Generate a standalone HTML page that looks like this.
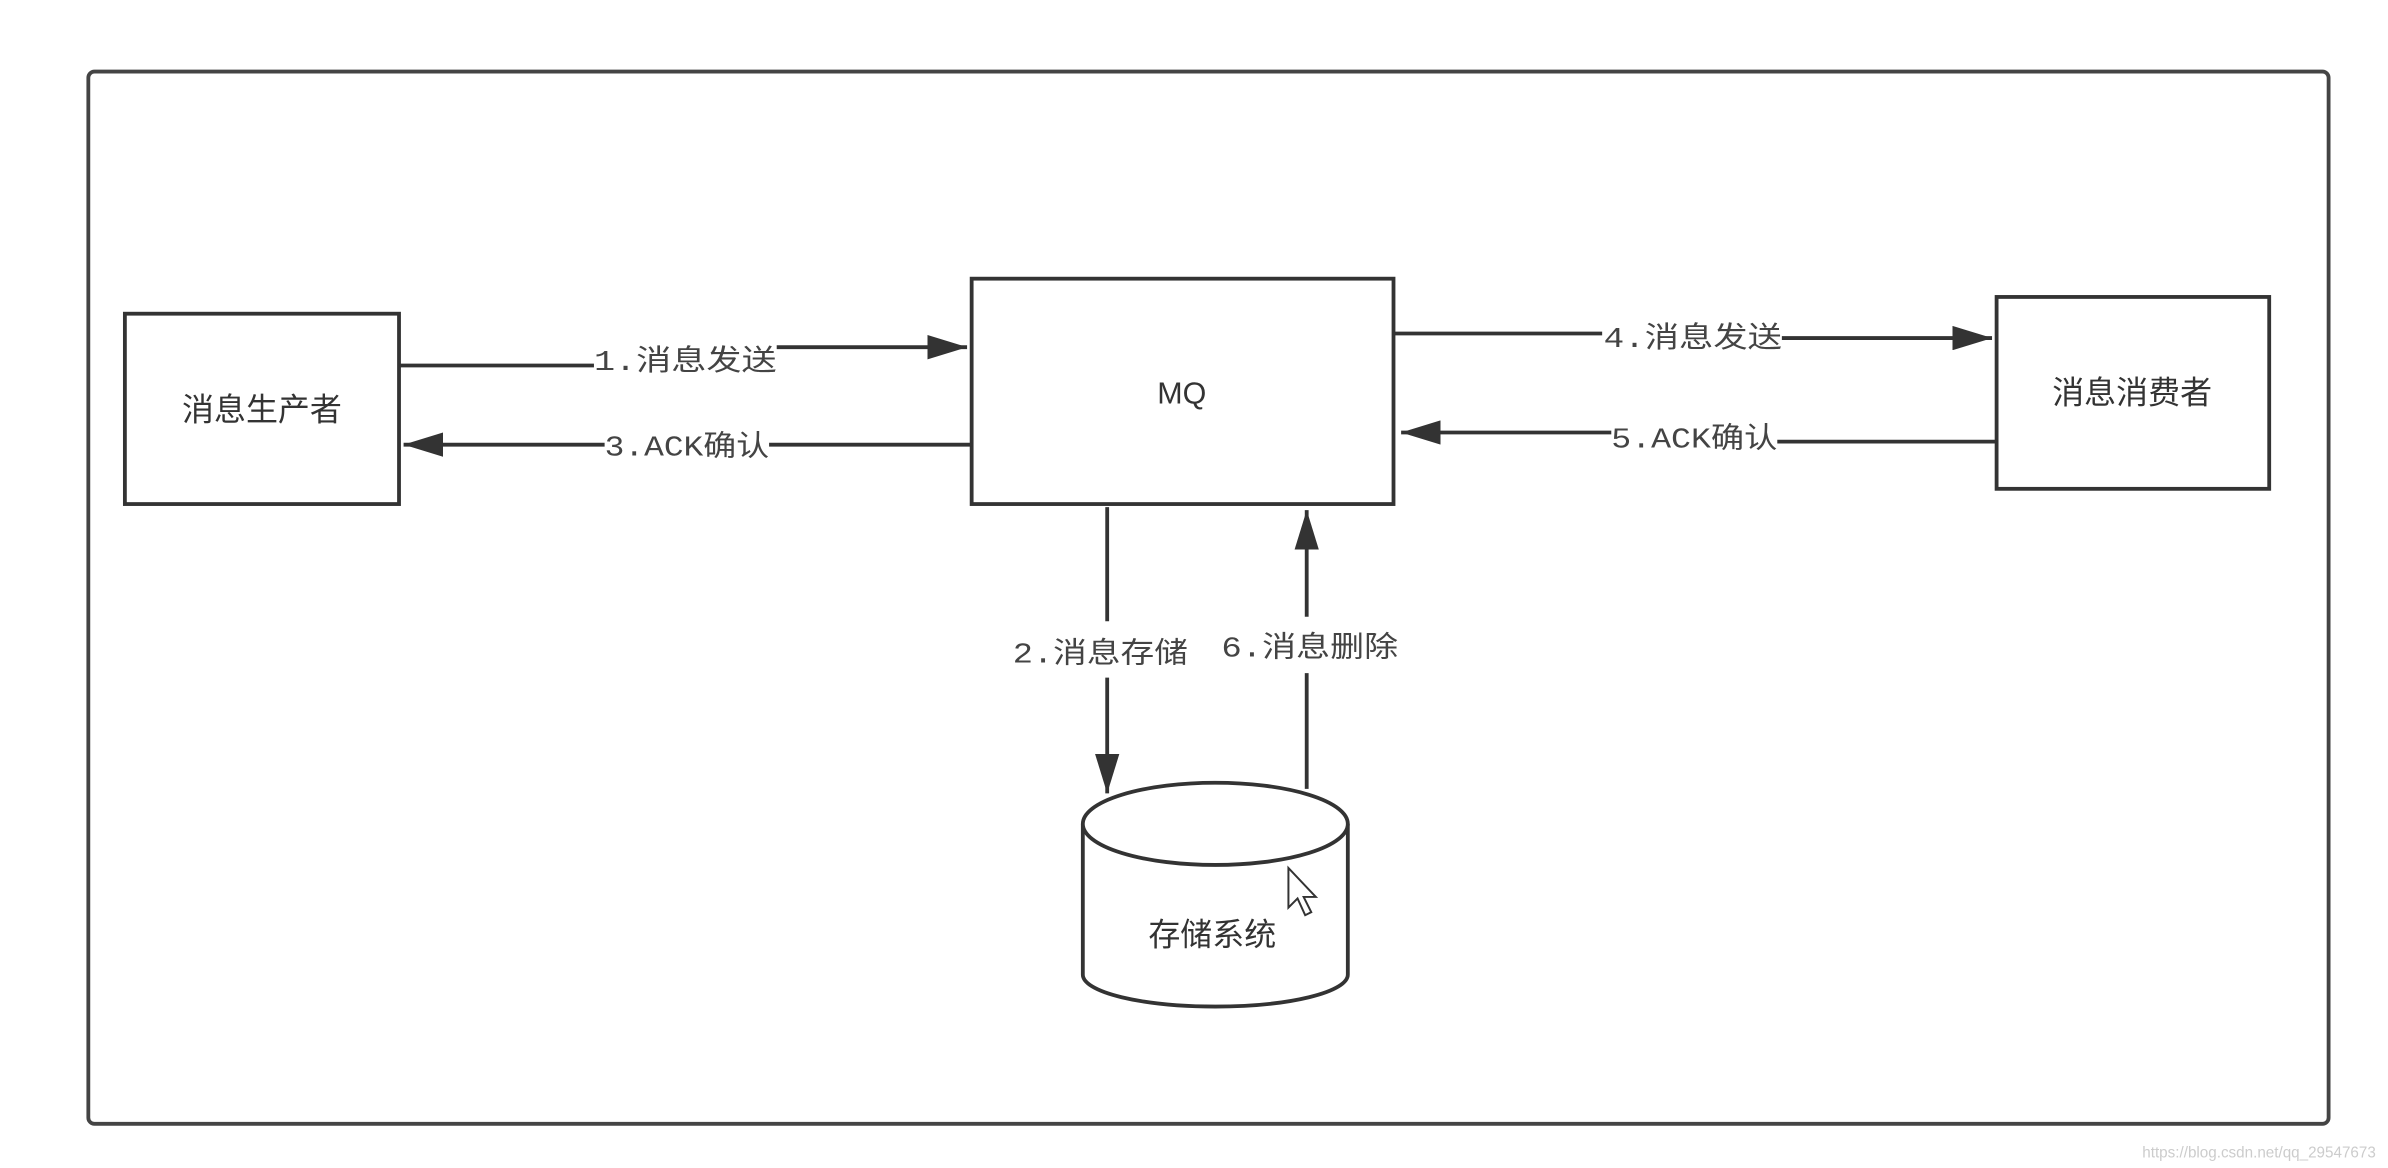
<!DOCTYPE html>
<html><head><meta charset="utf-8"><style>
html,body{margin:0;padding:0;background:#fff;}
svg{display:block;}
text{font-family:"Liberation Sans","Noto Sans CJK SC",sans-serif;}
.l{font-family:"Liberation Mono","Noto Sans CJK SC",monospace;font-size:19px;fill:#444;}
</style></head><body>
<svg width="2388" height="1168" viewBox="0 0 1568 767" preserveAspectRatio="none" xmlns="http://www.w3.org/2000/svg">
<defs>
<marker id="b" markerWidth="26" markerHeight="16" refX="26" refY="8" orient="auto" markerUnits="userSpaceOnUse"><path d="M0,0 L26,8 L0,16z" fill="#333"/></marker></defs>
<rect x="58" y="47" width="1471" height="691" rx="4" fill="#fff" stroke="#444" stroke-width="2.5"/>
<g fill="#fff" stroke="#333" stroke-width="2.5">
<rect x="82" y="206" width="180" height="125"/>
<rect x="638" y="183" width="277" height="148"/>
<rect x="1311" y="195" width="179" height="126"/>
</g>
<g stroke="#333" stroke-width="2.5" fill="none">
<path d="M262 240 H390"/><path d="M510 228 H635" marker-end="url(#b)"/>
<path d="M638 292 H505"/><path d="M397 292 H265" marker-end="url(#b)"/>
<path d="M915 219 H1052"/><path d="M1170 222 H1308" marker-end="url(#b)"/>
<path d="M1311 290 H1167"/><path d="M1058 284 H920" marker-end="url(#b)"/>
<path d="M727 333 V408"/><path d="M727 445 V521" marker-end="url(#b)"/>
<path d="M858 518 V442"/><path d="M858 405 V335" marker-end="url(#b)"/>
</g>
<text x="390" y="243" class="l" textLength="120" lengthAdjust="spacingAndGlyphs">1.消息发送</text>
<text x="397" y="299" class="l" textLength="108" lengthAdjust="spacingAndGlyphs">3.ACK确认</text>
<text x="1053" y="228" class="l" textLength="117" lengthAdjust="spacingAndGlyphs">4.消息发送</text>
<text x="1058" y="294" class="l" textLength="109" lengthAdjust="spacingAndGlyphs">5.ACK确认</text>
<text x="665" y="435" class="l" textLength="115" lengthAdjust="spacingAndGlyphs">2.消息存储</text>
<text x="802" y="431" class="l" textLength="116" lengthAdjust="spacingAndGlyphs">6.消息删除</text>
<path d="M711 541 V640 A87 21 0 0 0 885 640 V541" fill="#fff" stroke="#333" stroke-width="2.5"/>
<ellipse cx="798" cy="541" rx="87" ry="27" fill="#fff" stroke="#333" stroke-width="2.5"/>
<g font-size="21" fill="#333" text-anchor="middle">
<text x="172" y="276">消息生产者</text>
<text x="776" y="265" font-size="20">MQ</text>
<text x="1400" y="265">消息消费者</text>
<text x="796" y="621">存储系统</text>
</g>
<path d="M846 570 V596 L852 590 L857 601 L861 599 L856 589 L864 589 Z" fill="#fff" stroke="#333" stroke-width="1.3"/>
<text x="1560" y="760" font-size="10" fill="#ccc" text-anchor="end">https://blog.csdn.net/qq_29547673</text>
</svg>
</body></html>
